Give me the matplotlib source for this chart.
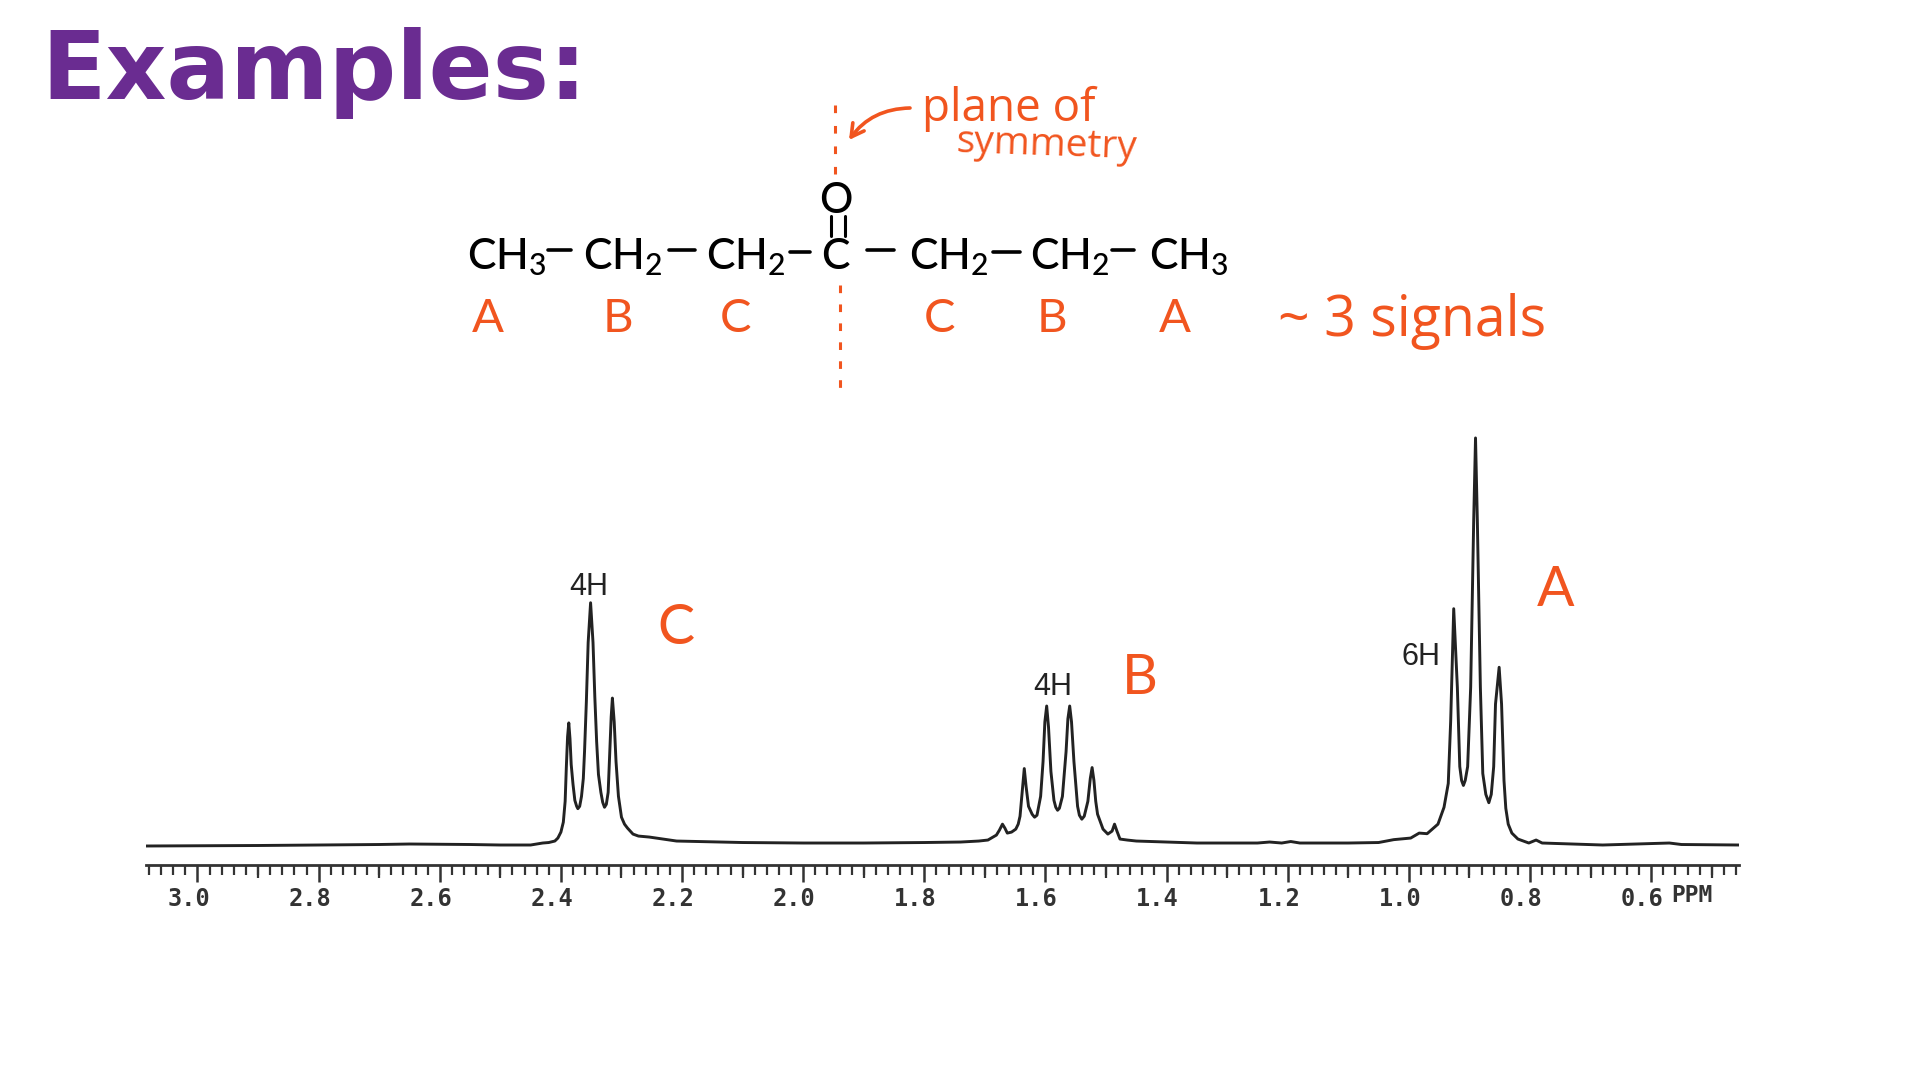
import matplotlib
matplotlib.use('Agg')
import matplotlib.pyplot as plt
from matplotlib.transforms import ScaledTranslation

plt.rcParams['font.family'] = ['Lato', 'DejaVu Sans']
plt.rcParams['mathtext.default'] = 'regular'

# spectrum, ppm and peak height
ppm = [3.085, 2.90, 2.80, 2.70, 2.65, 2.55, 2.50, 2.45, 2.44, 2.43, 2.42, 2.41, 2.405,
       2.400, 2.396, 2.393, 2.391, 2.389, 2.387, 2.385, 2.383, 2.380, 2.377, 2.374, 2.372, 2.369, 2.366,
       2.363, 2.361, 2.358, 2.355, 2.351, 2.347, 2.344, 2.341, 2.338, 2.334, 2.331, 2.328, 2.325, 2.322,
       2.320, 2.317, 2.315, 2.312, 2.309, 2.305, 2.300, 2.295, 2.290, 2.281, 2.272, 2.254, 2.209, 2.10,
       2.00, 1.90, 1.80, 1.74, 1.71, 1.695, 1.681, 1.676, 1.671, 1.667, 1.663, 1.656, 1.649,
       1.645, 1.642, 1.638, 1.635, 1.632, 1.628, 1.622, 1.618, 1.614, 1.608, 1.604, 1.601, 1.598,
       1.595, 1.591, 1.586, 1.583, 1.580, 1.577, 1.572, 1.566, 1.563, 1.560, 1.557, 1.553, 1.547, 1.544,
       1.540, 1.536, 1.530, 1.526, 1.523, 1.520, 1.517, 1.514, 1.505, 1.497, 1.490, 1.486,
       1.482, 1.477, 1.465, 1.45, 1.35, 1.25, 1.23, 1.21, 1.195, 1.18, 1.10, 1.05, 1.025,
       0.997, 0.983, 0.970, 0.952, 0.942, 0.935, 0.931, 0.926, 0.923, 0.920, 0.916, 0.913, 0.910, 0.907,
       0.903, 0.898, 0.893, 0.890, 0.887, 0.882, 0.878, 0.873, 0.868, 0.864, 0.860, 0.857, 0.851, 0.847,
       0.843, 0.840, 0.836, 0.830, 0.820, 0.802, 0.790, 0.780, 0.68, 0.57, 0.55, 0.455]
height = [0, 0.5, 1, 1.5, 2, 1.5, 1, 1, 2, 3, 3.5, 5, 8,
          14, 24, 45, 80, 110, 124, 108, 82, 62, 46, 40, 37.6, 40, 50,
          68, 95, 145, 205, 245, 205, 150, 105, 72, 54, 44, 39, 42, 54,
          85, 130, 149, 125, 85, 50, 29, 22, 18, 12, 10, 9, 5, 3.5,
          3, 3, 3.5, 4, 5, 6, 11, 16, 22, 18, 13, 14, 17,
          22, 30, 58, 78, 60, 40, 32, 29, 31, 50, 85, 125, 141,
          120, 75, 46, 39, 36, 38, 50, 95, 128, 141, 125, 85, 40, 31,
          27, 30, 45, 68, 79, 66, 45, 32, 17, 12, 15, 22,
          15, 7, 6, 5, 3, 3, 4, 3, 4.5, 3, 3, 3.5, 6.4,
          8, 13, 12.4, 22, 39, 63, 126, 239, 200, 160, 80, 66, 61, 66,
          80, 160, 328, 411, 328, 160, 73, 52, 43.6, 52, 80, 143, 180, 143,
          66, 38, 22, 13, 7, 3, 6, 3, 1, 3, 1.5, 1]

major_ticks = [3.0, 2.8, 2.6, 2.4, 2.2, 2.0, 1.8, 1.6, 1.4, 1.2, 1.0, 0.8, 0.6]
major_labels = ['3.0', '2.8', '2.6', '2.4', '2.2', '2.0', '1.8', '1.6', '1.4', '1.2', '1.0', '0.8', '0.6']
mid_ticks = [2.9, 2.7, 2.5, 2.3, 2.1, 1.9, 1.7, 1.5, 1.3, 1.1, 0.9, 0.7, 0.5]

purple = '#6a2c91'
orange = '#f1551f'
ink = '#222222'

fig = plt.figure(figsize=(19.2, 10.9), dpi=100)

# spectrum axes, only the bottom scale is visible
ax = fig.add_axes([146 / 1920, 1 - 865 / 1090, (1739 - 146) / 1920, (865 - 430) / 1090])
ax.plot(ppm, height, color=ink, lw=2.1, solid_joinstyle='round')
ax.set_xlim(3.085, 0.455)
ax.set_ylim(-19.14, 419)
ax.set_yticks([])
for s in ['top', 'left', 'right']:
    ax.spines[s].set_visible(False)
ax.spines['bottom'].set_color('#333333')
ax.spines['bottom'].set_linewidth(2)

ax.set_xticks(major_ticks)
ax.set_xticklabels(major_labels, family='DejaVu Sans Mono', weight='bold', fontsize=17, color='#333333')
minor = [3.08 - i * 0.02 for i in range(132)]
ax.set_xticks(minor, minor=True)
ax.tick_params(axis='x', which='major', length=12.5, width=1.8, color='#333333', pad=3)
ax.tick_params(axis='x', which='minor', length=7, width=1.6, color='#333333')

# the labels sit a little left of their ticks in the scan
shift = ScaledTranslation(-9 / 100, 0, fig.dpi_scale_trans)
for lab in ax.get_xticklabels():
    lab.set_transform(lab.get_transform() + shift)

mid = ax.secondary_xaxis('bottom')
mid.set_xticks(mid_ticks)
mid.set_xticklabels([])
mid.tick_params(length=9.5, width=1.6, color='#333333')
mid.spines['bottom'].set_visible(False)

# everything hand written goes on a pixel overlay
over = fig.add_axes([0, 0, 1, 1])
over.set_xlim(0, 1920)
over.set_ylim(1090, 0)
over.axis('off')
over.patch.set_alpha(0)

over.text(41, 99, 'Examples:', family='DejaVu Sans', weight='bold', fontsize=68, color=purple, va='baseline')

# condensed formula
chain = [('CH$_{3}$', 467), ('CH$_{2}$', 583), ('CH$_{2}$', 706), ('C', 821),
         ('CH$_{2}$', 909), ('CH$_{2}$', 1030), ('CH$_{3}$', 1149)]
for txt, x in chain:
    over.text(x, 269, txt, fontsize=31, color='black', va='baseline', weight='medium')
over.text(836, 201, 'O', fontsize=30, color='black', ha='center', va='center', weight='medium')
for x0, x1, y in [(548, 571, 250), (669, 695, 250), (790, 810, 252), (867, 894, 250), (993, 1020, 252), (1112, 1134, 250)]:
    over.plot([x0, x1], [y, y], color='black', lw=2.6, solid_capstyle='round')
for x in [831, 845]:
    over.plot([x, x], [216, 236], color='black', lw=2.2, solid_capstyle='round')

# plane of symmetry
over.plot([835, 835], [105, 174], color=orange, lw=2.2, dashes=(2.5, 4.2))
over.plot([840, 840], [285, 388], color=orange, lw=2.2, dashes=(2.5, 3.7))
over.annotate('', xy=(849, 140), xytext=(910, 108),
              arrowprops=dict(arrowstyle='->,head_length=0.9,head_width=0.5', color=orange, lw=2.6,
                              connectionstyle='arc3,rad=0.25', shrinkA=0, shrinkB=0))
over.text(922, 109, 'plane of', family='Open Sans', fontsize=33, color=orange, va='center')
over.text(955, 145, 'symmetry', family='Open Sans', fontsize=28, color=orange, va='center', rotation=-2)

for txt, x in [('A', 488), ('B', 618), ('C', 736), ('C', 940), ('B', 1052), ('A', 1175)]:
    over.text(x, 319, txt, fontsize=34, color=orange, ha='center', va='center')
over.text(1278, 321, '~ 3 signals', family='Open Sans', fontsize=40, color=orange, va='center')

# peak labels
for txt, x, y in [('C', 676, 628), ('B', 1140, 678), ('A', 1556, 590)]:
    over.text(x, y, txt, fontsize=40, color=orange, ha='center', va='center')
for txt, x, y in [('4H', 589, 587), ('4H', 1053, 687), ('6H', 1421, 657)]:
    over.text(x, y, txt, family='Liberation Sans', fontsize=22, color=ink, ha='center', va='center')
over.text(1692, 895, 'PPM', family='DejaVu Sans Mono', weight='bold', fontsize=16.5, color='#333333', ha='center', va='center')

fig.savefig('out.png', dpi=100)
